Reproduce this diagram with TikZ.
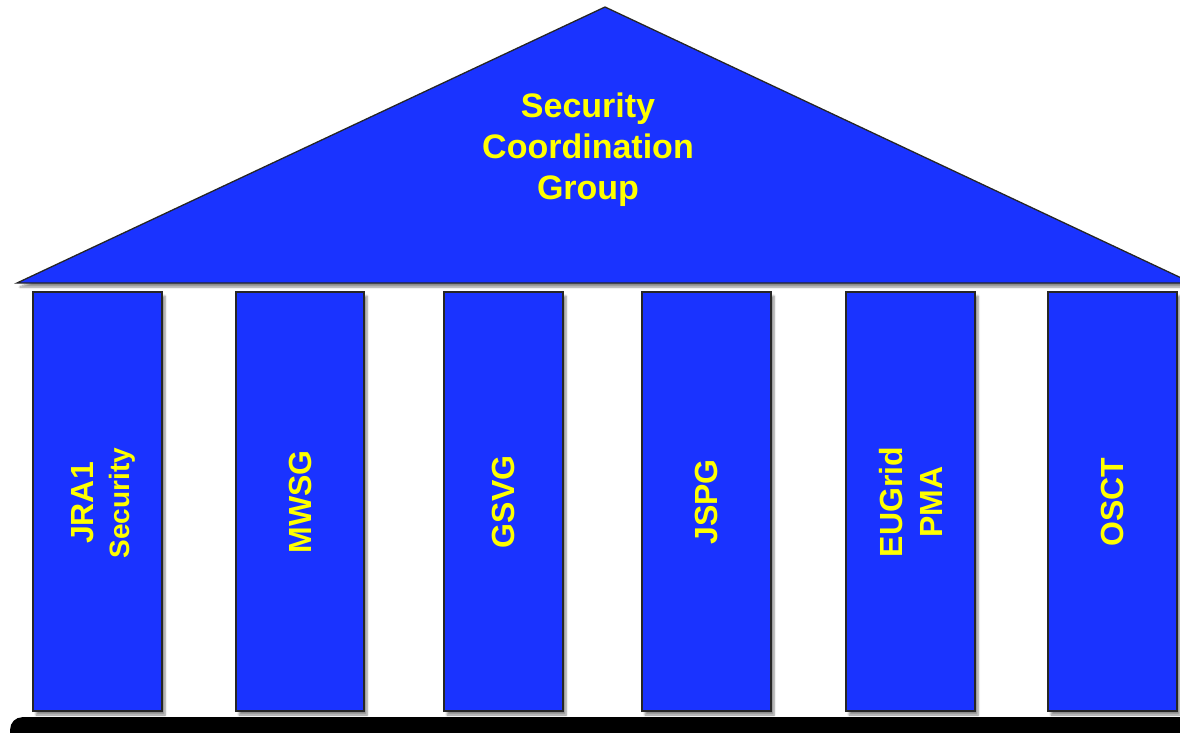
\documentclass[tikz,border=0pt]{standalone}
\usepackage{fontspec}
\setmainfont{Liberation Sans}
\usetikzlibrary{shadows.blur}
\definecolor{pillarblue}{RGB}{26,51,255}
\definecolor{labelyellow}{RGB}{255,255,0}
\tikzset{
  partshape/.style={fill=pillarblue, draw=black!85, line width=1.3pt,
    blur shadow={shadow xshift=3pt, shadow yshift=-4pt, shadow blur steps=6, shadow opacity=45}},
  pillarlabel/.style={text=labelyellow, font=\bfseries\fontsize{32}{40}\selectfont, align=center, rotate=90},
  rooflabel/.style={text=labelyellow, font=\bfseries\fontsize{34}{41}\selectfont, align=center},
}
\begin{document}
\begin{tikzpicture}[x=1pt,y=-1pt]
\useasboundingbox (0,0) rectangle (1180,733);
% base
\node[fill=black, rounded corners=12pt, minimum width=1200pt, minimum height=40pt, anchor=north west, inner sep=0pt] (base) at (10,717) {};
% roof
\coordinate (apex) at (605,7);
\coordinate (roofl) at (17,283);
\coordinate (roofr) at (1192,283);
\path[partshape, line join=miter] (roofl) -- (apex) -- (roofr) -- cycle;
\node[rooflabel] (sct) at (588,150) {Security\\Coordination\\Group};
% pillars
\foreach \n/\xa/\xb in {p1/33/162, p2/236/364, p3/444/563, p4/642/771, p5/846/975, p6/1048/1177}{
  \path[partshape] (\xa,292) rectangle (\xb,711);
}
\node[pillarlabel] (l1) at (103,503) {JRA1\\[-4pt]{\fontsize{28}{36}\selectfont Security}};
\node[pillarlabel] (l2) at (300,502) {MWSG};
\node[pillarlabel] (l3) at (503.5,502) {GSVG};
\node[pillarlabel] (l4) at (706.5,502) {JSPG};
\node[pillarlabel] (l5) at (910.5,502) {EUGrid\\PMA};
\node[pillarlabel] (l6) at (1112.5,502) {OSCT};
\end{tikzpicture}
\end{document}
